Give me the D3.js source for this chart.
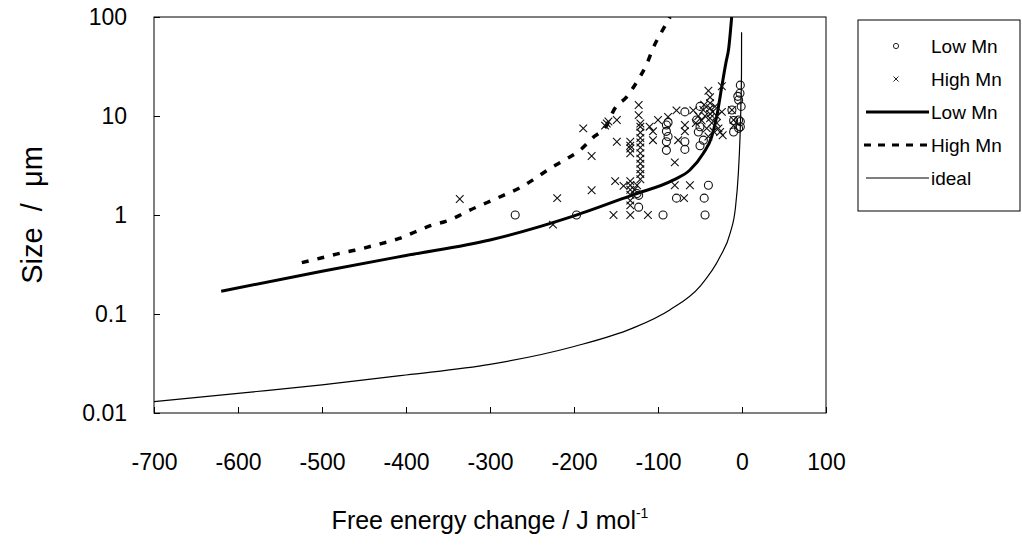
<!DOCTYPE html>
<meta charset="utf-8">
<style>
  body { margin: 0; background: #fff; }
  text { font-family: "Liberation Sans", Arial, sans-serif; fill: #000; }
</style>

<!-- Load d3.js -->
<script src="https://d3js.org/d3.v7.min.js"></script>

<div id="chart"></div>

<script>
// Axis ticks
var xTicks = [-700, -600, -500, -400, -300, -200, -100, 0, 100];
var yTicks = [0.01, 0.1, 1, 10, 100];

// Measured particles, Low Mn (circles)
var lowMnDG   = [-270, -197, -94, -44, -45, -40, -78, -123, -123, -125,
                 -90, -90, -90, -90, -68, -68, -68, -50, -50, -50,
                 -54, -52, -46, -2, -2.4, -4, -1, -10, -10, -4,
                 -4, -12, -2, -2, -88, -88, -5];
var lowMnSize = [1.0, 1.0, 1.0, 1.0, 1.48, 2.0, 1.48, 1.2, 1.58, 1.65,
                 8.1, 7.0, 5.5, 4.5, 11, 5.5, 4.6, 12.5, 7.8, 5.0,
                 9.1, 6.9, 5.7, 20.5, 17, 14.5, 12.5, 9, 6.9, 9.1,
                 7.5, 11.5, 7.8, 8.8, 6.2, 8.6, 15.8];

// Measured particles, High Mn (crosses)
var highMnDG   = [-336, -220, -225, -179, -179, -189, -153, -133, -112, -80,
                  -62, -69, -151, -141,
                  -133, -133, -133, -133, -133, -133, -133, -133, -133, -133,
                  -123, -123, -121, -121, -121, -121, -121, -121, -121, -121,
                  -121, -121, -121, -121, -125, -128,
                  -161, -163, -159, -149, -149, -110, -106, -106, -100, -88,
                  -78, -76, -80, -58, -68, -68,
                  -40, -38, -38, -38, -38, -38, -36, -42, -44, -34,
                  -30, -30, -28, -26, -23, -24, -24, -12, -10, -10,
                  -48, -52, -46, -55, -35, -32, -40, -45];
var highMnSize = [1.45, 1.48, 0.8, 1.78, 3.95, 7.5, 1.0, 1.0, 1.0, 2.0,
                  2.0, 1.48, 2.2, 1.97,
                  5.5, 5.0, 4.7, 4.2, 2.2, 2.0, 1.8, 1.6, 1.4, 1.25,
                  12.9, 10.2, 8.4, 7.8, 6.8, 6.0, 5.4, 4.8, 4.2, 3.7,
                  3.3, 2.9, 2.6, 2.3, 2.0, 1.8,
                  8.4, 8.0, 8.8, 9.1, 5.5, 7.8, 5.7, 7.0, 9.1, 9.8,
                  11.4, 5.7, 3.4, 11.4, 8.1, 7.0,
                  18, 15.5, 13.5, 12, 10.5, 9.5, 8.5, 7.5, 10, 7,
                  10, 8.5, 7.5, 6.9, 6.4, 11, 20, 11.5, 9.1, 8,
                  9, 10, 11.5, 8.5, 11, 12.5, 6.2, 13];

// Model curve, Low Mn (thick solid)
var lowCurveDG   = [-620, -500, -400, -300, -200, -130, -82, -62, -46, -36, -30, -24, -19, -16, -12.3];
var lowCurveSize = [0.17, 0.27, 0.39, 0.56, 0.98, 1.6, 2.25, 2.85, 4.2, 6.2, 10, 20, 35, 47, 100];

// Model curve, High Mn (dashed)
var highCurveDG   = [-524, -500, -479, -461, -435, -408, -371, -348, -324, -304, -284, -264, -246,
                     -228, -211, -193, -178, -161, -152, -137, -124, -113, -105.6, -95.6, -85.7];
var highCurveSize = [0.33, 0.37, 0.41, 0.44, 0.5, 0.58, 0.78, 0.89, 1.12, 1.33, 1.58, 1.89, 2.35,
                     2.97, 3.6, 4.5, 6.0, 8.1, 11.7, 15.7, 23, 34, 49, 71, 100];

// Ideal curve (thin)
var idealDG   = [-700, -600, -500, -400, -300, -200, -130, -86, -50, -26, -14, -8, -4.4, -2.4, -1.2, -0.6, -0.5];
var idealSize = [0.013, 0.0158, 0.0192, 0.0242, 0.031, 0.047, 0.072, 0.11, 0.19, 0.38, 0.66, 1.15, 2.6, 6, 14, 27, 70];

// Set graph margins and dims
var W = 1022, H = 556;
var plot = {left: 154, top: 17, right: 826, bottom: 413};

var svg = d3.select("#chart").append("svg")
    .attr("width", W)
    .attr("height", H);

var x = d3.scaleLinear().domain([-700, 100]).range([plot.left, plot.right]);
var y = d3.scaleLog().domain([0.01, 100]).range([plot.bottom, plot.top]);

// X axis (ticks point inward, plain hyphen for minus)
svg.append("g")
    .attr("transform", "translate(0," + plot.bottom + ")")
    .call(d3.axisBottom(x).tickValues(xTicks).tickFormat(function(d) { return String(d); })
      .tickSizeInner(-6).tickSizeOuter(0).tickPadding(41))
    .call(function(g) { g.select(".domain").remove(); })
    .selectAll("text")
      .style("font-size", "23px");

// Y axis
svg.append("g")
    .attr("transform", "translate(" + plot.left + ",0)")
    .call(d3.axisLeft(y).tickValues(yTicks).tickFormat(d3.format("~g"))
      .tickSizeInner(-6).tickSizeOuter(0).tickPadding(27))
    .call(function(g) { g.select(".domain").remove(); })
    .selectAll("text")
      .style("font-size", "23px");

// Plot frame
svg.append("rect")
    .attr("x", plot.left).attr("y", plot.top)
    .attr("width", plot.right - plot.left).attr("height", plot.bottom - plot.top)
    .attr("fill", "none").attr("stroke", "#000").attr("stroke-width", 1);

svg.append("clipPath").attr("id", "clip")
  .append("rect")
    .attr("x", plot.left).attr("y", plot.top)
    .attr("width", plot.right - plot.left).attr("height", plot.bottom - plot.top);

var line = d3.line()
    .x(function(d) { return x(d[0]); })
    .y(function(d) { return y(d[1]); })
    .curve(d3.curveMonotoneX);

var g = svg.append("g").attr("clip-path", "url(#clip)");

// Curves
g.append("path")
    .datum(d3.zip(idealDG, idealSize))
    .attr("d", line)
    .attr("fill", "none").attr("stroke", "#000").attr("stroke-width", 1.2);

g.append("path")
    .datum(d3.zip(lowCurveDG, lowCurveSize))
    .attr("d", line)
    .attr("fill", "none").attr("stroke", "#000").attr("stroke-width", 3);

g.append("path")
    .datum(d3.zip(highCurveDG, highCurveSize))
    .attr("d", line)
    .attr("fill", "none").attr("stroke", "#000").attr("stroke-width", 3.5)
    .attr("stroke-dasharray", "7,9");

// Low Mn points
g.selectAll(".lowpt")
  .data(d3.zip(lowMnDG, lowMnSize))
  .enter()
  .append("circle")
    .attr("cx", function(d) { return x(d[0]); })
    .attr("cy", function(d) { return y(d[1]); })
    .attr("r", 4)
    .attr("fill", "none").attr("stroke", "#111").attr("stroke-width", 1.1);

// High Mn points
var cross = d3.symbol().type(d3.symbolX).size(40);
g.selectAll(".highpt")
  .data(d3.zip(highMnDG, highMnSize))
  .enter()
  .append("path")
    .attr("d", cross)
    .attr("transform", function(d) { return "translate(" + x(d[0]) + "," + y(d[1]) + ")"; })
    .attr("fill", "none").attr("stroke", "#111").attr("stroke-width", 1.1);

// Axis titles
var xt = svg.append("text")
    .attr("x", (plot.left + plot.right) / 2)
    .attr("y", 529)
    .attr("text-anchor", "middle")
    .style("font-size", "25px")
    .text("Free energy change / J mol");
xt.append("tspan")
    .attr("dy", "-11")
    .style("font-size", "14px")
    .text("-1");

svg.append("text")
    .attr("transform", "translate(42," + (plot.top + plot.bottom) / 2 + ") rotate(-90)")
    .attr("text-anchor", "middle")
    .style("font-size", "29px")
    .style("white-space", "pre")
    .text("Size  /  \u03bcm");

// Legend
var legend = svg.append("g");
legend.append("rect")
    .attr("x", 858).attr("y", 20)
    .attr("width", 162).attr("height", 191)
    .attr("fill", "#fff").attr("stroke", "#000").attr("stroke-width", 1);

var legendItems = ["Low Mn", "High Mn", "Low Mn", "High Mn", "ideal"];
var rowY = function(i) { return 46 + i * 33; };

legend.selectAll(".ltext")
  .data(legendItems)
  .enter()
  .append("text")
    .attr("x", 931)
    .attr("y", function(d, i) { return rowY(i); })
    .attr("dy", "0.36em")
    .style("font-size", "19px")
    .text(function(d) { return d; });

legend.append("circle")
    .attr("cx", 896).attr("cy", rowY(0)).attr("r", 2.6)
    .attr("fill", "none").attr("stroke", "#222");
legend.append("path")
    .attr("d", d3.symbol().type(d3.symbolX).size(18))
    .attr("transform", "translate(896," + rowY(1) + ")")
    .attr("fill", "none").attr("stroke", "#222");
legend.append("line")
    .attr("x1", 866).attr("x2", 929).attr("y1", rowY(2)).attr("y2", rowY(2))
    .attr("stroke", "#000").attr("stroke-width", 3);
legend.append("line")
    .attr("x1", 864).attr("x2", 929).attr("y1", rowY(3)).attr("y2", rowY(3))
    .attr("stroke", "#000").attr("stroke-width", 3).attr("stroke-dasharray", "7,7");
legend.append("line")
    .attr("x1", 866).attr("x2", 929).attr("y1", rowY(4)).attr("y2", rowY(4))
    .attr("stroke", "#000").attr("stroke-width", 1.2);
</script>
